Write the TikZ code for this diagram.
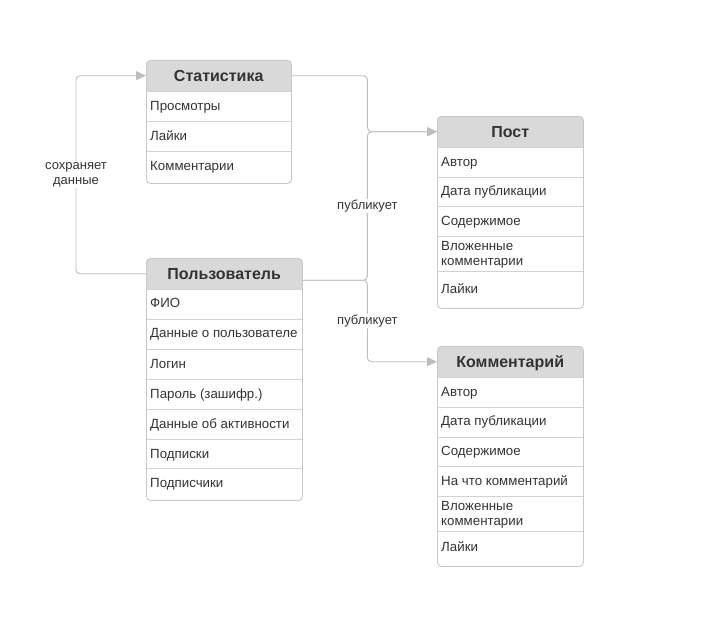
\documentclass[tikz,border=0pt]{standalone}
\usepackage{fontspec}
\setmainfont{Liberation Sans}
\usetikzlibrary{arrows.meta}

\definecolor{boxline}{HTML}{C8C8C8}
\definecolor{sepline}{HTML}{D2D2D2}
\definecolor{headfill}{HTML}{D9D9D9}
\definecolor{ink}{HTML}{333333}
\definecolor{linkgray}{HTML}{BDBDBD}

\tikzset{
  frame/.style={draw=boxline,line width=0.9pt,rounded corners=4pt,anchor=north west,inner sep=0pt},
  head/.style={fill=headfill,rounded corners=4pt,anchor=north west,inner sep=0pt,minimum height=31,
    text height=12.5pt,text depth=0pt,text=ink,font=\fontsize{16}{19}\selectfont\bfseries},
  field/.style={anchor=base west,inner sep=0pt,text=ink,font=\fontsize{13.3}{15}\selectfont},
  field2/.style={anchor=west,inner sep=0pt,yshift=-1.5pt,text=ink,align=left,
    font=\fontsize{13.3}{15}\selectfont},
  sep/.style={draw=sepline,line width=0.9pt},
  link/.style={draw=linkgray,line width=0.9pt,rounded corners=4pt,-{Triangle[length=10pt,width=9pt]}},
  lbl/.style={fill=white,inner sep=1pt,text=ink,align=center,font=\fontsize{13}{15}\selectfont}
}

\begin{document}
\begin{tikzpicture}[x=1pt,y=-1pt]
\useasboundingbox (0,0) rectangle (717,618);

% Статистика
\fill[headfill] (146,80) rectangle (291,91);
\node[head,minimum width=145] (stat) at (146,60) {Статистика};
\node[frame,minimum width=145,minimum height=123] (statbox) at (146,60) {};
\draw[sep] (146,91) -- (291,91) (146,121) -- (291,121) (146,151) -- (291,151);
\node[field] (stat1) at (150,110.5) {Просмотры};
\node[field] (stat2) at (150,140) {Лайки};
\node[field] (stat3) at (150,170.5) {Комментарии};

% Пост
\fill[headfill] (437,136) rectangle (583,147);
\node[head,minimum width=146] (post) at (437,116) {Пост};
\node[frame,minimum width=146,minimum height=192] (postbox) at (437,116) {};
\draw[sep] (437,147) -- (583,147) (437,177) -- (583,177) (437,206) -- (583,206)
  (437,236) -- (583,236) (437,271) -- (583,271);
\node[field] (post1) at (441,166.5) {Автор};
\node[field] (post2) at (441,195.5) {Дата публикации};
\node[field] (post3) at (441,225.5) {Содержимое};
\node[field2] (post4) at (441,253.5) {Вложенные\\комментарии};
\node[field] (post5) at (441,293.5) {Лайки};

% Пользователь
\fill[headfill] (146,278) rectangle (302,289);
\node[head,minimum width=156] (user) at (146,258) {Пользователь};
\node[frame,minimum width=156,minimum height=242] (userbox) at (146,258) {};
\draw[sep] (146,289) -- (302,289) (146,319) -- (302,319) (146,349) -- (302,349)
  (146,379) -- (302,379) (146,409) -- (302,409) (146,439) -- (302,439) (146,468) -- (302,468);
\node[field] (user1) at (150,307.5) {ФИО};
\node[field] (user2) at (150,337.5) {Данные о пользователе};
\node[field] (user3) at (150,368.5) {Логин};
\node[field] (user4) at (150,398.5) {Пароль (зашифр.)};
\node[field] (user5) at (150,428.5) {Данные об активности};
\node[field] (user6) at (150,458.5) {Подписки};
\node[field] (user7) at (150,487.5) {Подписчики};

% Комментарий
\fill[headfill] (437,366) rectangle (583,377);
\node[head,minimum width=146] (comm) at (437,346) {Комментарий};
\node[frame,minimum width=146,minimum height=220] (commbox) at (437,346) {};
\draw[sep] (437,377) -- (583,377) (437,407) -- (583,407) (437,437) -- (583,437)
  (437,466) -- (583,466) (437,496) -- (583,496) (437,531) -- (583,531);
\node[field] (comm1) at (441,396.5) {Автор};
\node[field] (comm2) at (441,425.5) {Дата публикации};
\node[field] (comm3) at (441,455.5) {Содержимое};
\node[field] (comm4) at (441,485.5) {На что комментарий};
\node[field2] (comm5) at (441,513.5) {Вложенные\\комментарии};
\node[field] (comm6) at (441,551.5) {Лайки};

% связи
\coordinate (pub) at ([yshift=-6.5pt]user.east);
\draw[link] (user.west) -- ++(-70,0) |- node[lbl,pos=0.25] {сохраняет\\данные} (stat.west);
\draw[link] (stat.east) -- ++(76,0) |- (post.west);
\draw[link] (pub) -- ++(65,0) |- node[lbl,pos=0.25] {публикует} (post.west);
\draw[link] (pub) -- ++(65,0) |- node[lbl,pos=0.25] {публикует} (comm.west);
\end{tikzpicture}
\end{document}
